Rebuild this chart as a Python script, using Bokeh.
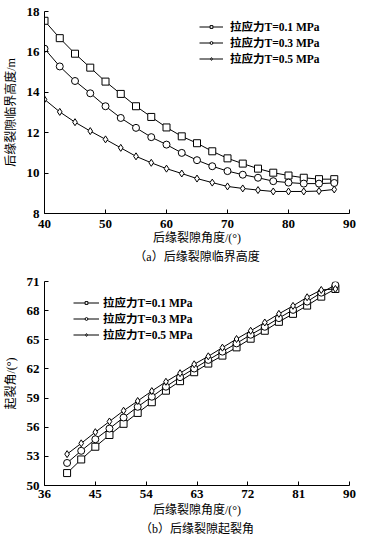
from bokeh.plotting import figure
from bokeh.models import Legend, LegendItem, FixedTicker, Range1d, Title
from bokeh.layouts import column
from bokeh.embed import file_html
from bokeh.resources import INLINE

# ---- data (a) critical height ----
angle = [40, 42.5, 45, 47.5, 50, 52.5, 55, 57.5, 60, 62.5, 65, 67.5, 70, 72.5, 75, 77.5, 80, 82.5, 85, 87.5]
h_t01 = [17.54, 16.68, 15.91, 15.22, 14.53, 13.92, 13.31, 12.78, 12.26, 11.82, 11.48, 11.08, 10.73, 10.47, 10.22, 10.02, 9.88, 9.77, 9.70, 9.70]
h_t03 = [16.16, 15.28, 14.56, 13.95, 13.31, 12.73, 12.24, 11.78, 11.41, 11.00, 10.64, 10.34, 10.10, 9.92, 9.77, 9.60, 9.53, 9.48, 9.48, 9.51]
h_t05 = [13.65, 13.03, 12.52, 12.08, 11.67, 11.25, 10.83, 10.51, 10.22, 9.98, 9.73, 9.53, 9.34, 9.24, 9.16, 9.09, 9.09, 9.09, 9.11, 9.19]

# ---- data (b) initiation angle ----
a_t01 = [51.28, 52.68, 53.99, 55.20, 56.35, 57.47, 58.57, 59.76, 60.74, 61.66, 62.55, 63.37, 64.22, 65.11, 65.93, 66.85, 67.67, 68.52, 69.44, 70.23]
a_t03 = [52.32, 53.57, 54.76, 55.86, 57.00, 58.10, 59.14, 60.17, 61.15, 62.04, 62.93, 63.78, 64.63, 65.52, 66.34, 67.23, 68.08, 68.93, 69.85, 70.64]
a_t05 = [53.23, 54.34, 55.49, 56.59, 57.70, 58.70, 59.72, 60.68, 61.56, 62.48, 63.30, 64.19, 65.08, 65.93, 66.78, 67.67, 68.49, 69.38, 70.13, 70.23]

labels = ["拉应力T=0.1 MPa", "拉应力T=0.3 MPa", "拉应力T=0.5 MPa"]
markers = ["square", "circle", "diamond"]

xticks_a = [40, 50, 60, 70, 80, 90]
yticks_a = [8, 10, 12, 14, 16, 18]
xticks_b = [36, 45, 54, 63, 72, 81, 90]
yticks_b = [50, 53, 56, 59, 62, 65, 68, 71]

NUM_FONT = "Liberation Serif"
CJK_FONT = "Liberation Serif, Noto Sans CJK SC"


def style(p, xt, yt, xlabel, ylabel, x_std, x_lab_std):
    p.outline_line_color = None
    p.xgrid.visible = False
    p.ygrid.visible = False
    p.xaxis.ticker = FixedTicker(ticks=xt)
    p.yaxis.ticker = FixedTicker(ticks=yt)
    for ax in (p.xaxis[0], p.yaxis[0]):
        ax.major_tick_in = 4
        ax.major_tick_out = 0
        ax.minor_tick_line_color = None
        ax.axis_line_color = "black"
        ax.major_tick_line_color = "black"
        ax.major_label_text_font = NUM_FONT
        ax.major_label_text_font_style = "bold"
        ax.major_label_text_font_size = "13px"
        ax.major_label_text_color = "black"
        ax.axis_label_text_font = CJK_FONT
        ax.axis_label_text_font_style = "normal"
        ax.axis_label_text_font_size = "12px"
        ax.axis_label_text_color = "black"
    p.xaxis.axis_label = xlabel
    p.yaxis.axis_label = ylabel
    p.xaxis.major_label_standoff = x_std
    p.yaxis.major_label_standoff = 5
    p.xaxis.axis_label_standoff = x_lab_std
    p.yaxis.axis_label_standoff = 6


def add_series(p, x, ys, leg_x, leg_y, glyph_w, standoff, label_h):
    items = []
    for y, lab, m in zip(ys, labels, markers):
        r1 = p.line(x, y, line_color="black", line_width=1)
        r2 = p.scatter(x, y, marker=m, size=7, line_color="black", line_width=1, fill_color="white")
        items.append(LegendItem(label=lab, renderers=[r1, r2]))
    leg = Legend(items=items, location=(leg_x, leg_y))
    leg.padding = 0
    leg.margin = 0
    leg.spacing = 0
    leg.border_line_alpha = 0
    leg.background_fill_alpha = 0
    leg.glyph_width = glyph_w
    leg.glyph_height = 7
    leg.label_height = label_h
    leg.label_standoff = standoff
    leg.label_text_font = CJK_FONT
    leg.label_text_font_size = "11.5px"
    leg.label_text_font_style = "bold"
    leg.label_text_color = "black"
    p.add_layout(leg, "center")


# ---- figure (a) ----
p1 = figure(width=368, height=270, output_backend="svg", toolbar_location=None,
            x_range=Range1d(40, 90), y_range=Range1d(8, 18),
            min_border_left=43, min_border_right=19, min_border_top=11, min_border_bottom=57)
style(p1, xticks_a, yticks_a, "后缘裂隙角度/(°)", "后缘裂隙临界高度/m", 6, 0)
add_series(p1, angle, [h_t01, h_t03, h_t05], 155, 147, 24, 7, 15)
t1 = Title(text="（a）后缘裂隙临界高度", align="center", text_font=CJK_FONT,
           text_font_size="12px", text_font_style="normal", text_color="black", standoff=0)
p1.add_layout(t1, "below")

# ---- figure (b) ----
p2 = figure(width=368, height=275, output_backend="svg", toolbar_location=None,
            x_range=Range1d(36, 90), y_range=Range1d(50, 71),
            min_border_left=44, min_border_right=18, min_border_top=11, min_border_bottom=60)
style(p2, xticks_b, yticks_b, "后缘裂隙角度/(°)", "起裂角/(°)", 4, 2)
add_series(p2, angle, [a_t01, a_t03, a_t05], 29, 143, 26, 4, 16)
t2 = Title(text="（b）后缘裂隙起裂角", align="center", text_font=CJK_FONT,
           text_font_size="12px", text_font_style="normal", text_color="black", standoff=0)
p2.add_layout(t2, "below")

layout = column(p1, p2, spacing=0)
open("out.html", "w").write(file_html(layout, INLINE))
